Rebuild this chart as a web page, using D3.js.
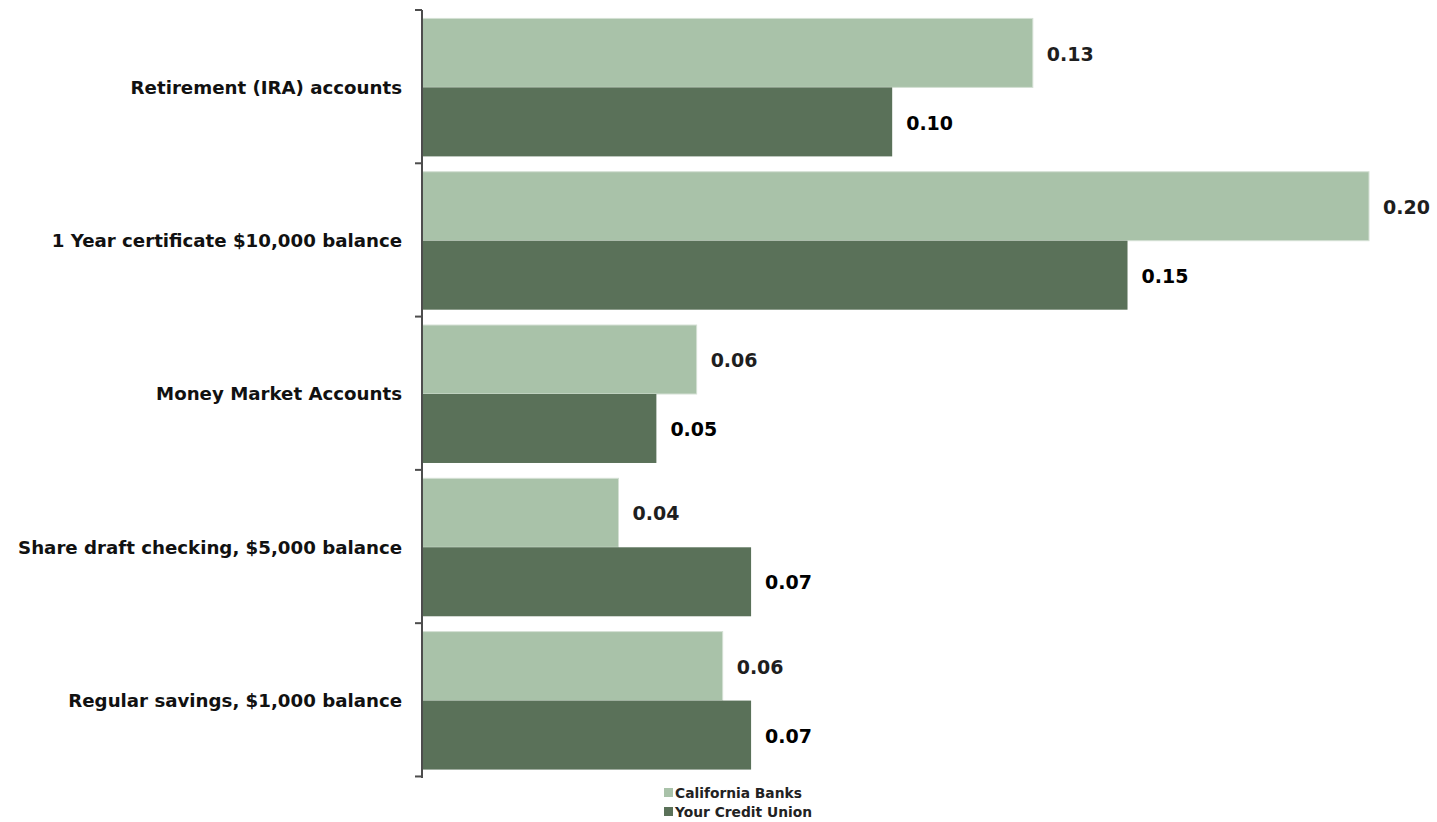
<!DOCTYPE html>
<html>
<head>
<meta charset="utf-8">
<script src="https://cdn.jsdelivr.net/npm/d3@7"></script>
<style>
  html, body { margin: 0; padding: 0; background: #fff; }
  svg { display: block; }
  text { font-family: "Century Gothic", "DejaVu Sans", sans-serif; font-weight: bold; }
</style>
</head>
<body>
<svg id="chart" width="1437" height="822"></svg>
<script>
// Deposit rate comparison by account type
const categories = [
  "Retirement (IRA) accounts",
  "1 Year certificate $10,000 balance",
  "Money Market Accounts",
  "Share draft checking, $5,000 balance",
  "Regular savings, $1,000 balance"
];
const seriesNames = ["California Banks", "Your Credit Union"];
const californiaBanks = [0.129, 0.200, 0.058, 0.0415, 0.0635];
const yourCreditUnion = [0.0993, 0.149, 0.0495, 0.0695, 0.0695];
const seriesColors = ["#a9c2a9", "#5a7159"];
const labelColors = ["#1e1e1e", "#000000"];

const svg = d3.select("#chart");
const axisX = 422, plotTop = 10, plotBottom = 778;

const x = d3.scaleLinear().domain([0, 0.2]).range([axisX, 1369]);
const y = d3.scaleBand().domain(categories).range([plotTop, plotBottom])
  .paddingInner(0.1).paddingOuter(0.055);
const ySub = d3.scaleBand().domain(seriesNames).range([0, y.bandwidth()]);

const rows = categories.map((c, i) => ({
  category: c,
  values: [
    { series: seriesNames[0], value: californiaBanks[i], idx: 0 },
    { series: seriesNames[1], value: yourCreditUnion[i], idx: 1 }
  ]
}));

const fmt = d3.format(".2f");

const groups = svg.append("g").selectAll("g").data(rows).join("g")
  .attr("transform", d => `translate(0,${y(d.category)})`);

groups.selectAll("rect").data(d => d.values).join("rect")
  .attr("x", x(0))
  .attr("y", d => ySub(d.series))
  .attr("width", d => x(d.value) - x(0))
  .attr("height", ySub.bandwidth())
  .attr("fill", d => seriesColors[d.idx])
  .attr("stroke", d => d.idx === 0 ? "#d4e0d4" : "none")
  .attr("stroke-width", 1);

groups.selectAll("text.val").data(d => d.values).join("text")
  .attr("class", "val")
  .attr("x", d => x(d.value) + 14)
  .attr("y", d => ySub(d.series) + ySub.bandwidth() / 2 + 1)
  .attr("dy", "0.35em")
  .attr("fill", d => labelColors[d.idx])
  .style("font-size", "19px")
  .text(d => fmt(d.value));

// Category axis with ticks at band boundaries
const step = y.step();
const boundaries = d3.range(categories.length + 1).map(i => plotTop + i * step);
const axisG = svg.append("g");
axisG.append("line")
  .attr("x1", axisX).attr("x2", axisX)
  .attr("y1", plotTop).attr("y2", plotBottom)
  .attr("stroke", "#4d4d4d").attr("stroke-width", 2);
axisG.selectAll("line.tick").data(boundaries).join("line")
  .attr("class", "tick")
  .attr("x1", axisX - 7).attr("x2", axisX)
  .attr("y1", d => d).attr("y2", d => d)
  .attr("stroke", "#4d4d4d").attr("stroke-width", 2);
axisG.selectAll("text").data(categories).join("text")
  .attr("x", 402)
  .attr("y", d => y(d) + y.bandwidth() / 2)
  .attr("dy", "0.35em")
  .attr("text-anchor", "end")
  .attr("fill", "#111")
  .style("font-size", "18.2px")
  .text(d => d);

// Legend
const legend = svg.append("g").attr("transform", "translate(664,788)");
const items = legend.selectAll("g").data(seriesNames).join("g")
  .attr("transform", (d, i) => `translate(0,${i * 19})`);
items.append("rect").attr("width", 9).attr("height", 9)
  .attr("fill", (d, i) => seriesColors[i]);
items.append("text").attr("x", 11).attr("y", 5).attr("dy", "0.35em")
  .attr("fill", "#222").style("font-size", "13.8px").text(d => d);
</script>
</body>
</html>
